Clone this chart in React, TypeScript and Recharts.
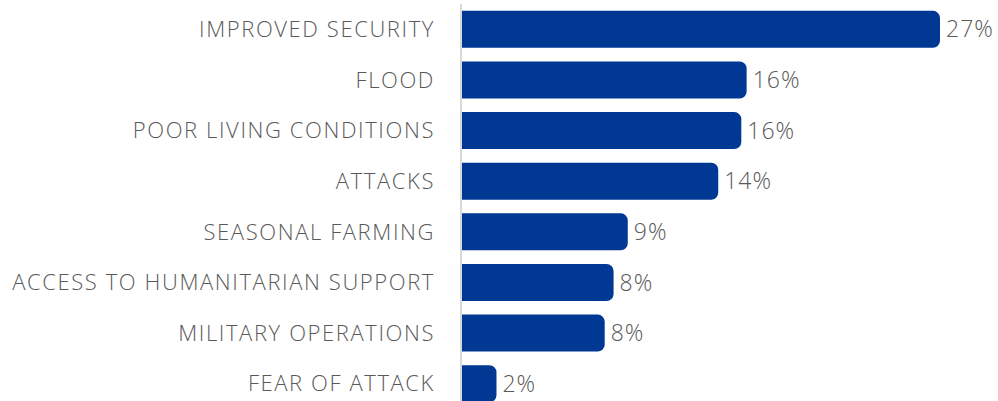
import React from "react";
import { BarChart, Bar, XAxis, YAxis, LabelList } from "recharts";

const categories = [
  "IMPROVED SECURITY",
  "FLOOD",
  "POOR LIVING CONDITIONS",
  "ATTACKS",
  "SEASONAL FARMING",
  "ACCESS TO HUMANITARIAN SUPPORT",
  "MILITARY OPERATIONS",
  "FEAR OF ATTACK",
];
const values = [27.0, 16.1, 15.8, 14.5, 9.4, 8.6, 8.1, 2.0];
const valueLabels = ["27%", "16%", "16%", "14%", "9%", "8%", "8%", "2%"];

const data = categories.map((name, i) => ({ name, value: values[i], label: valueLabels[i] }));

const FONT = "'Open Sans', Lato, sans-serif";

export default function App() {
  return (
    <div style={{ position: "absolute", left: 0, top: 0 }}>
      <BarChart
        width={998}
        height={410}
        data={data}
        layout="vertical"
        margin={{ top: 4, right: 58, bottom: 1, left: 0 }}
        barCategoryGap="13.5%"
      >
        <XAxis type="number" hide domain={[0, 27]} />
        <YAxis
          type="category"
          dataKey="name"
          width={461}
          tickLine={false}
          tickSize={0}
          tickMargin={26}
          axisLine={{ stroke: "#d9d9d9", strokeWidth: 2 }}
          tick={{ fill: "#595959", fontSize: 22, fontFamily: FONT, fontWeight: 300, letterSpacing: 1.6 }}
          interval={0}
        />
        <Bar dataKey="value" fill="#003893" radius={[0, 7, 7, 0]} isAnimationActive={false}>
          <LabelList
            dataKey="label"
            position="right"
            offset={6}
            style={{ fill: "#595959", fontSize: 23, fontFamily: FONT, fontWeight: 300, letterSpacing: 1 }}
          />
        </Bar>
      </BarChart>
    </div>
  );
}
